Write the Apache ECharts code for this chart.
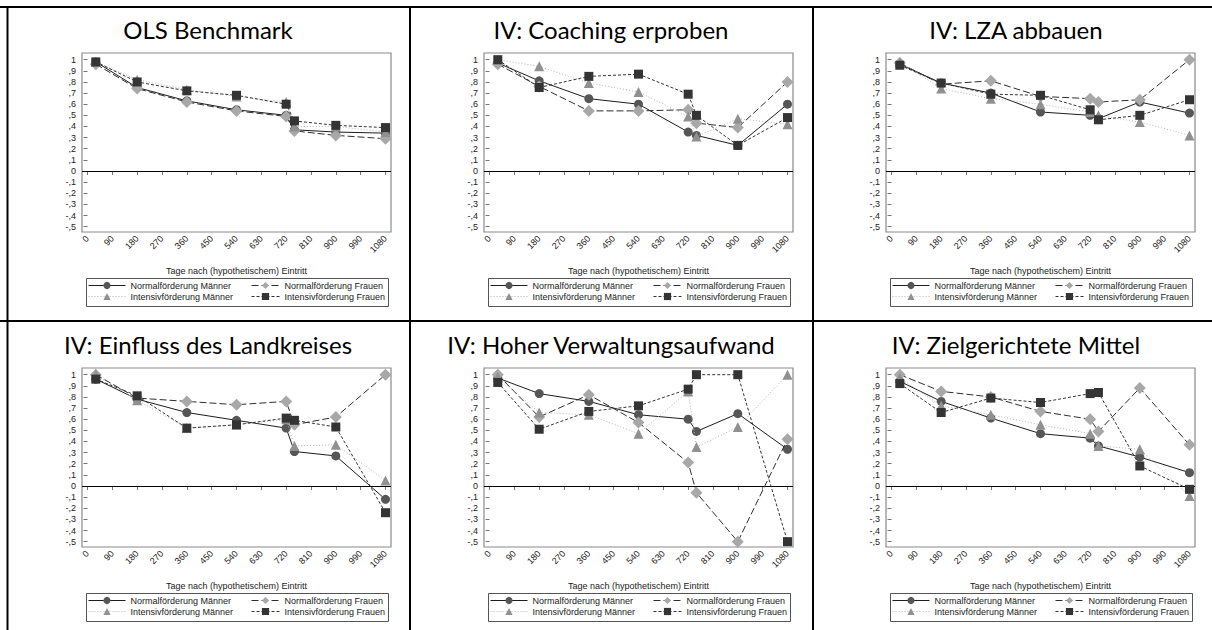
<!DOCTYPE html>
<html><head><meta charset="utf-8">
<script src="https://cdn.jsdelivr.net/npm/echarts@6/dist/echarts.min.js"></script>
<style>html,body{margin:0;padding:0;background:#fff}#c{width:1212px;height:630px}</style>
</head><body><div id="c"></div>
<script>
// ---- data ----
const xDays = [30, 180, 360, 540, 720, 750, 900, 1080];
const xTicks = [0, 90, 180, 270, 360, 450, 540, 630, 720, 810, 900, 990, 1080];
const yTicks = [-0.5, -0.4, -0.3, -0.2, -0.1, 0, 0.1, 0.2, 0.3, 0.4, 0.5, 0.6, 0.7, 0.8, 0.9, 1];
const seriesNames = ['Normalförderung Männer', 'Normalförderung Frauen', 'Intensivförderung Männer', 'Intensivförderung Frauen'];
const panelTitles = ['OLS Benchmark', 'IV: Coaching erproben', 'IV: LZA abbauen',
  'IV: Einfluss des Landkreises', 'IV: Hoher Verwaltungsaufwand', 'IV: Zielgerichtete Mittel'];
const xAxisTitle = 'Tage nach (hypothetischem) Eintritt';

const olsNormM = [0.98, 0.75, 0.63, 0.55, 0.50, 0.37, 0.35, 0.34];
const olsNormF = [0.96, 0.74, 0.62, 0.54, 0.49, 0.36, 0.32, 0.29];
const olsIntM  = [0.98, 0.82, 0.73, 0.67, 0.62, 0.40, 0.40, 0.35];
const olsIntF  = [0.98, 0.80, 0.72, 0.68, 0.60, 0.45, 0.41, 0.39];

const coaNormM = [0.97, 0.81, 0.65, 0.60, 0.35, 0.32, 0.23, 0.60];
const coaNormF = [0.96, 0.76, 0.54, 0.54, 0.55, 0.43, 0.39, 0.80];
const coaIntM  = [1.00, 0.94, 0.79, 0.71, 0.49, 0.31, 0.47, 0.42];
const coaIntF  = [1.00, 0.75, 0.85, 0.87, 0.69, 0.50, 0.23, 0.48];

const lzaNormM = [0.96, 0.79, 0.70, 0.53, 0.50, 0.47, 0.62, 0.52];
const lzaNormF = [0.97, 0.78, 0.81, 0.67, 0.65, 0.62, 0.64, 1.00];
const lzaIntM  = [0.98, 0.74, 0.65, 0.60, 0.53, 0.50, 0.44, 0.32];
const lzaIntF  = [0.95, 0.79, 0.69, 0.68, 0.55, 0.46, 0.50, 0.64];

const lkrNormM = [0.96, 0.78, 0.66, 0.59, 0.52, 0.31, 0.27, -0.12];
const lkrNormF = [1.00, 0.79, 0.76, 0.73, 0.76, 0.55, 0.62, 1.00];
const lkrIntM  = [1.00, 0.77, 0.52, 0.55, 0.60, 0.36, 0.37, 0.05];
const lkrIntF  = [0.96, 0.81, 0.52, 0.55, 0.61, 0.59, 0.53, -0.24];

const verNormM = [0.97, 0.83, 0.76, 0.64, 0.60, 0.49, 0.65, 0.33];
const verNormF = [1.00, 0.62, 0.82, 0.57, 0.21, -0.06, -0.50, 0.42];
const verIntM  = [0.98, 0.66, 0.64, 0.47, 0.85, 0.35, 0.53, 1.00];
const verIntF  = [0.93, 0.51, 0.67, 0.72, 0.87, 1.00, 1.00, -0.50];

const zieNormM = [0.94, 0.76, 0.61, 0.47, 0.43, 0.36, 0.26, 0.12];
const zieNormF = [1.00, 0.85, 0.80, 0.67, 0.60, 0.49, 0.88, 0.37];
const zieIntM  = [0.97, 0.72, 0.64, 0.55, 0.47, 0.36, 0.33, -0.09];
const zieIntF  = [0.92, 0.66, 0.79, 0.75, 0.83, 0.84, 0.18, -0.03];

const panelValues = [
  [olsNormM, olsNormF, olsIntM, olsIntF],
  [coaNormM, coaNormF, coaIntM, coaIntF],
  [lzaNormM, lzaNormF, lzaIntM, lzaIntF],
  [lkrNormM, lkrNormF, lkrIntM, lkrIntF],
  [verNormM, verNormF, verIntM, verIntF],
  [zieNormM, zieNormF, zieIntM, zieIntF]
];

// ---- layout & style ----
const colX = [0, 402, 804];
const rowY = [0, 315];
const colCenter = [208, 611, 1016];
const FONT = 'Liberation Sans';
const styles = [
  {symbol: 'circle',   size: 9,  color: '#565656', line: {color: '#1e1e1e', type: 'solid', width: 1}},
  {symbol: 'diamond',  size: 12, color: '#a8a8a8', line: {color: '#2e2e2e', type: [7, 3], width: 1}},
  {symbol: 'triangle', size: 10, color: '#909090', line: {color: '#b4b4b4', type: [1, 2], width: 1}},
  {symbol: 'rect',     size: 9,  color: '#343434', line: {color: '#333333', type: [3, 2], width: 1}}
];
function fmtY(v) {
  if (Math.abs(v) < 1e-9) return '0';
  if (Math.abs(v - 1) < 1e-9) return '1';
  const s = Math.abs(v).toFixed(1).replace('0.', ',');
  return (v < 0 ? '-' : '') + s;
}
function fmtX(v) { return String(Math.round(v)); }

const grids = [], xAxes = [], yAxes = [], series = [], legends = [], graphics = [];
for (let p = 0; p < 6; p++) {
  const c = p % 3, r = Math.floor(p / 3);
  const ox = colX[c], oy = rowY[r];
  grids.push({left: ox + 82, top: oy + 53, width: 309, height: 179,
    show: true, borderColor: '#8a8a8a', borderWidth: 1.2, backgroundColor: '#fff'});
  xAxes.push({type: 'value', gridIndex: p, min: -20, max: 1100,
    axisLine: {show: false}, splitLine: {show: false},
    axisTick: {show: true, length: 4, customValues: xTicks, lineStyle: {color: '#777'}},
    axisLabel: {customValues: xTicks, rotate: 45, fontSize: 9, fontFamily: FONT, color: '#222', margin: 5, formatter: fmtX},
    name: xAxisTitle, nameLocation: 'middle', nameGap: 34,
    nameTextStyle: {fontSize: 9, fontFamily: FONT, color: '#222'}});
  yAxes.push({type: 'value', gridIndex: p, min: -0.548, max: 1.06,
    axisLine: {show: false}, splitLine: {show: false},
    axisTick: {show: true, length: 4, customValues: yTicks, lineStyle: {color: '#777'}},
    axisLabel: {customValues: yTicks, fontSize: 9, fontFamily: FONT, color: '#222', margin: 6, formatter: fmtY}});
  for (let s = 0; s < 4; s++) {
    const st = styles[s];
    const ser = {type: 'line', name: seriesNames[s], xAxisIndex: p, yAxisIndex: p,
      data: xDays.map((d, i) => [d, panelValues[p][s][i]]),
      symbol: st.symbol, symbolSize: st.size, showSymbol: true,
      itemStyle: {color: st.color, borderWidth: 0},
      lineStyle: st.line, emphasis: {disabled: true}, z: 2 + s};
    if (s === 0) {
      ser.markLine = {silent: true, symbol: ['none', 'none'], label: {show: false},
        lineStyle: {color: '#000', type: 'solid', width: 1}, data: [{yAxis: 0}], z: 1};
    }
    series.push(ser);
  }
  const lg = {orient: 'vertical', top: oy + 281, itemGap: 2, itemHeight: 9,
    textStyle: {fontSize: 9, fontFamily: FONT, color: '#222'},
    lineStyle: {width: 1}, padding: 0, selectedMode: false};
  legends.push(Object.assign({}, lg, {left: ox + 88, itemWidth: 37, data: [seriesNames[0], seriesNames[2]]}));
  legends.push(Object.assign({}, lg, {left: ox + 251, itemWidth: 28, data: [seriesNames[1], seriesNames[3]]}));
  graphics.push({type: 'rect', shape: {x: ox + 86.5, y: oy + 278.5, width: 302, height: 28},
    style: {fill: 'none', stroke: '#555', lineWidth: 1}, z: 0});
  graphics.push({type: 'text', x: colCenter[c], y: oy + 29,
    style: {text: panelTitles[p], fontSize: 24, fontFamily: 'Lato', fill: '#000',
      textAlign: 'center', textVerticalAlign: 'middle'}});
}
// table borders
const lineStyle = {stroke: '#000', lineWidth: 2};
graphics.push({type: 'line', shape: {x1: 0, y1: 7, x2: 1212, y2: 7}, style: lineStyle});
graphics.push({type: 'line', shape: {x1: 0, y1: 321, x2: 1212, y2: 321}, style: lineStyle});
graphics.push({type: 'line', shape: {x1: 7.5, y1: 6, x2: 7.5, y2: 630}, style: lineStyle});
graphics.push({type: 'line', shape: {x1: 410, y1: 6, x2: 410, y2: 630}, style: lineStyle});
graphics.push({type: 'line', shape: {x1: 813, y1: 6, x2: 813, y2: 630}, style: lineStyle});

const chart = echarts.init(document.getElementById('c'), null, {renderer: 'svg'});
chart.setOption({animation: false, backgroundColor: '#fff',
  grid: grids, xAxis: xAxes, yAxis: yAxes, series: series, legend: legends, graphic: graphics});
</script></body></html>
